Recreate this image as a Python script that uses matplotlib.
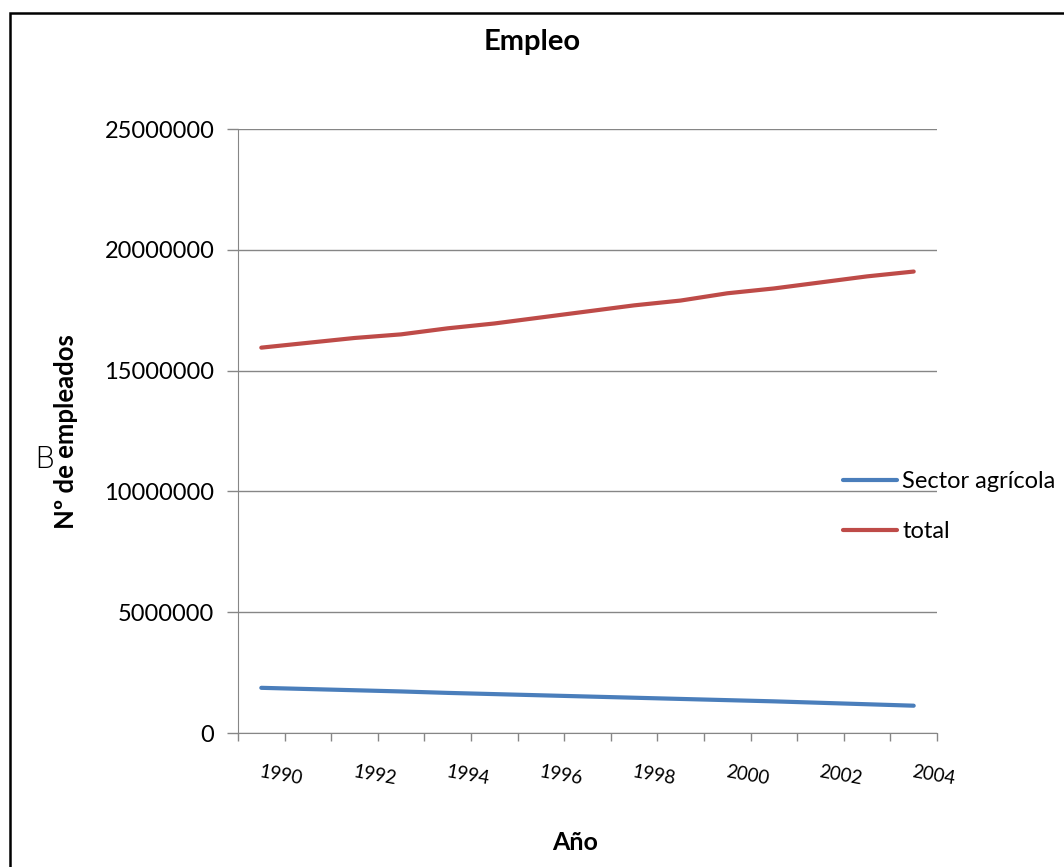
import matplotlib
matplotlib.use("Agg")
import matplotlib.pyplot as plt
from matplotlib.patches import Rectangle

years = list(range(1990, 2005))
agricola = [1870000, 1820000, 1770000, 1720000, 1660000, 1610000, 1560000, 1510000,
            1460000, 1410000, 1360000, 1310000, 1250000, 1190000, 1130000]
total = [15950000, 16150000, 16350000, 16500000, 16750000, 16950000, 17200000, 17450000,
         17700000, 17900000, 18200000, 18400000, 18650000, 18900000, 19100000]
yticks = [0, 5000000, 10000000, 15000000, 20000000, 25000000]

plt.rcParams['font.family'] = ['Lato', 'DejaVu Sans']

fig = plt.figure(figsize=(10.64, 8.67), dpi=100)
ax = fig.add_axes([238/1064, 1-733/867, (937-238)/1064, (733-129)/867])

x = list(range(len(years)))
ax.plot(x, agricola, color='#4A7EBB', lw=3, solid_capstyle='round', label='Sector agrícola')
ax.plot(x, total, color='#BE4B48', lw=3, solid_capstyle='round', label='total')

ax.set_xlim(-0.5, len(years) - 0.5)
ax.set_ylim(0, 25000000)
ax.set_yticks(yticks, [str(v) for v in yticks])
ax.yaxis.grid(True, color='#868686', lw=1)
ax.set_axisbelow(True)

# category boundaries as major ticks, labels every 2 years as minor ticks
ax.set_xticks([i - 0.5 for i in range(len(years) + 1)], [''] * (len(years) + 1))
ax.set_xticks(x[::2], [str(y) for y in years[::2]], minor=True)
ax.tick_params(axis='x', which='major', length=6, color='#868686', width=1)
ax.tick_params(axis='x', which='minor', length=0, pad=22, labelsize=13.5)
for lab in ax.get_xticklabels(minor=True):
    lab.set_rotation(-10)
    lab.set_ha('left')
    lab.set_va('top')
    lab.set_rotation_mode('anchor')
ax.tick_params(axis='y', length=8, color='#868686', width=1, pad=9, labelsize=17)

for s in ['top', 'right']:
    ax.spines[s].set_visible(False)
for s in ['left', 'bottom']:
    ax.spines[s].set_color('#868686')

fig.text(0.5, 1 - 42/867, 'Empleo', ha='center', va='center', fontsize=21, fontweight='bold')
fig.text(575/1064, 1 - 843/867, 'Año', ha='center', va='center', fontsize=18, fontweight='bold')
fig.text(66/1064, 1 - 432/867, 'Nº de empleados', ha='center', va='center', rotation=90,
         fontsize=18.5, fontweight='bold')
fig.text(44/1064, 1 - 460/867, 'B', ha='center', va='center', fontsize=22,
         family='DejaVu Sans', fontweight='light')

fig.legend(loc='upper left', bbox_to_anchor=(843/1064, 1 - 471/867), frameon=False,
           fontsize=17, handlelength=2.3, handletextpad=0.2, labelspacing=1.22,
           borderpad=0, borderaxespad=0)

fig.add_artist(Rectangle((10/1064, -0.05), 1.1, 1.05 - 13/867, transform=fig.transFigure,
                         fill=False, edgecolor='black', lw=1.8))

fig.savefig('out.png', dpi=100)
